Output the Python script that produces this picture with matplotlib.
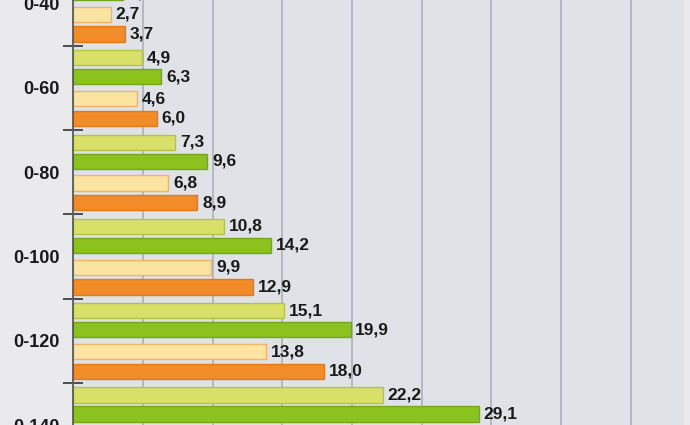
import matplotlib
matplotlib.use("Agg")
import matplotlib.pyplot as plt
import numpy as np

categories = ["0-40", "0-60", "0-80", "0-100", "0-120", "0-140"]
series_a = [2.8, 4.9, 7.3, 10.8, 15.1, 22.2]   # light green
series_b = [3.6, 6.3, 9.6, 14.2, 19.9, 29.1]   # green
series_c = [2.7, 4.6, 6.8, 9.9, 13.8, 20.3]    # light yellow
series_d = [3.7, 6.0, 8.9, 12.9, 18.0, 26.5]   # orange

fills = ["#d8e068", "#8cc21e", "#fde3a0", "#f28c28"]
edges = ["#b4c24c", "#74a81a", "#efb36a", "#e07a1c"]
offsets = [-0.356, -0.13, 0.13, 0.362]
bar_h = 0.18

plt.rcParams['font.family'] = ['Liberation Sans', 'DejaVu Sans']

fig = plt.figure(figsize=(6.9, 4.25), dpi=100, facecolor="#eaeaec")
ax = fig.add_axes([73.3 / 690, 0, (684 - 73.3) / 690, 1])
ax.set_facecolor("#dfe3e8")

y = np.arange(len(categories))
for vals, fc, ec, off in zip([series_a, series_b, series_c, series_d], fills, edges, offsets):
    bars = ax.barh(y + off, vals, height=bar_h, color=fc, edgecolor=ec, linewidth=1.0, zorder=3)
    for b, v in zip(bars, vals):
        ax.annotate(f"{v:.1f}".replace(".", ","), (v, b.get_y() + b.get_height() / 2),
                    xytext=(3.5, 0), textcoords="offset points", ha="left", va="center",
                    fontsize=12.5, fontweight="bold", color="#1a1a1a", zorder=4,
                    annotation_clip=False)

ax.set_xlim(0, (684 - 73.3) / 13.93)
ax.set_ylim((425 - 3.5) / 84.3, -3.5 / 84.3)

ax.set_xticks(np.arange(5, 45, 5))
ax.tick_params(axis="x", length=0, labelbottom=False)
ax.grid(axis="x", color="#a9adb3", linewidth=1.1, zorder=1)

ax.set_yticks(y)
ax.set_yticklabels(categories, fontsize=13, fontweight="bold", color="#1a1a1a")
ax.tick_params(axis="y", which="major", length=0, pad=9.5)
ax.set_yticks(y[:-1] + 0.5, minor=True)
ax.tick_params(axis="y", which="minor", direction="inout", length=14, width=1.2, color="#333333")

for s in ["top", "right", "bottom"]:
    ax.spines[s].set_visible(False)
ax.spines["left"].set_color("#555a60")
ax.spines["left"].set_linewidth(1.3)
ax.spines["left"].set_zorder(5)

fig.savefig("out.png", dpi=100, facecolor=fig.get_facecolor())
